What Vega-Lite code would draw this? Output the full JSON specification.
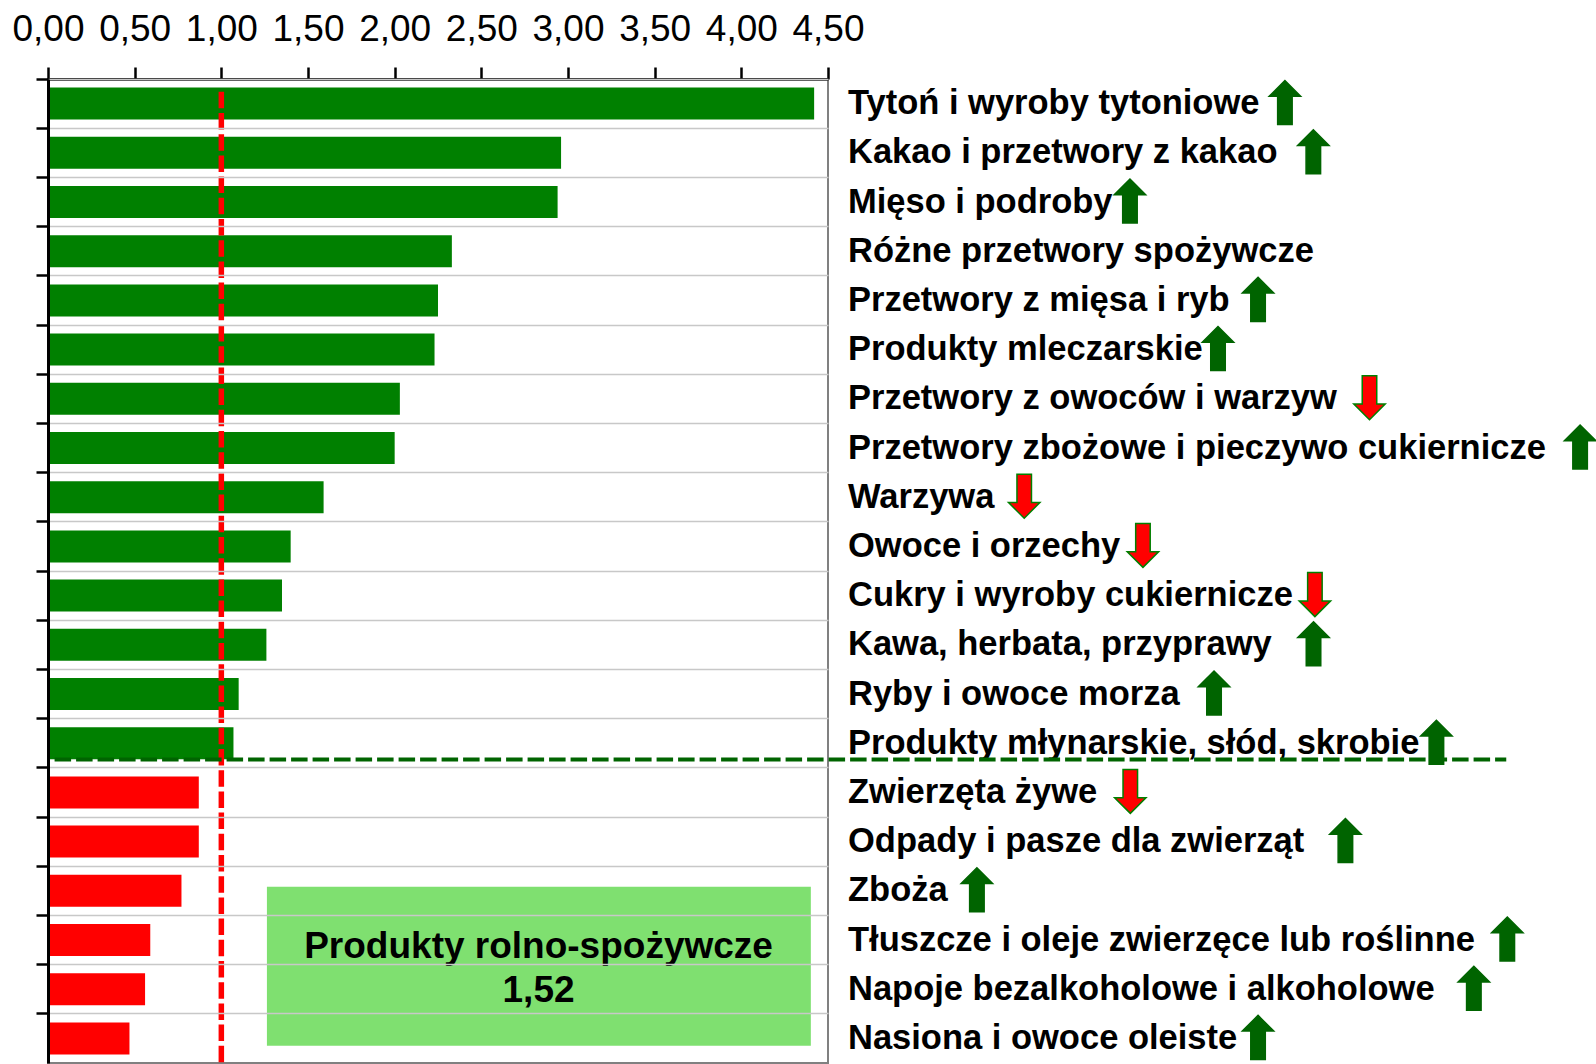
{
  "$schema": "https://vega.github.io/schema/vega-lite/v6.json",
  "autosize": {"type": "none"},
  "padding": {"left": 48, "top": 79, "right": 768, "bottom": 1},
  "width": 780,
  "height": 984,
  "background": "#ffffff",
  "config": {
    "view": {"stroke": "#808080", "strokeWidth": 2},
    "axisX": {
      "grid": false,
      "domainColor": "#000000",
      "domainWidth": 2.5,
      "tickColor": "#000000",
      "tickWidth": 2.5,
      "tickSize": 12,
      "labelFont": "Liberation Sans",
      "labelFontSize": 37,
      "labelColor": "#000000",
      "labelPadding": 27,
      "labelBaseline": "alphabetic",
      "labelFlush": false,
      "labelOverlap": false
    }
  },
  "datasets": {
    "kategorie": [
      {"kategoria": "Tytoń i wyroby tytoniowe", "wskaznik": 4.42, "grupa": "powyżej 1", "trend": "wzrost", "strzalka_x": 7.136},
      {"kategoria": "Kakao i przetwory z kakao", "wskaznik": 2.96, "grupa": "powyżej 1", "trend": "wzrost", "strzalka_x": 7.3},
      {"kategoria": "Mięso i podroby", "wskaznik": 2.94, "grupa": "powyżej 1", "trend": "wzrost", "strzalka_x": 6.242},
      {"kategoria": "Różne przetwory spożywcze", "wskaznik": 2.33, "grupa": "powyżej 1", "trend": "brak", "strzalka_x": null},
      {"kategoria": "Przetwory z mięsa i ryb", "wskaznik": 2.25, "grupa": "powyżej 1", "trend": "wzrost", "strzalka_x": 6.981},
      {"kategoria": "Produkty mleczarskie", "wskaznik": 2.23, "grupa": "powyżej 1", "trend": "wzrost", "strzalka_x": 6.75},
      {"kategoria": "Przetwory z owoców i warzyw", "wskaznik": 2.03, "grupa": "powyżej 1", "trend": "spadek", "strzalka_x": 7.624},
      {"kategoria": "Przetwory zbożowe i pieczywo cukiernicze", "wskaznik": 2.0, "grupa": "powyżej 1", "trend": "wzrost", "strzalka_x": 8.839},
      {"kategoria": "Warzywa", "wskaznik": 1.59, "grupa": "powyżej 1", "trend": "spadek", "strzalka_x": 5.632},
      {"kategoria": "Owoce i orzechy", "wskaznik": 1.4, "grupa": "powyżej 1", "trend": "spadek", "strzalka_x": 6.317},
      {"kategoria": "Cukry i wyroby cukiernicze", "wskaznik": 1.35, "grupa": "powyżej 1", "trend": "spadek", "strzalka_x": 7.309},
      {"kategoria": "Kawa, herbata, przyprawy", "wskaznik": 1.26, "grupa": "powyżej 1", "trend": "wzrost", "strzalka_x": 7.301},
      {"kategoria": "Ryby i owoce morza", "wskaznik": 1.1, "grupa": "powyżej 1", "trend": "wzrost", "strzalka_x": 6.727},
      {"kategoria": "Produkty młynarskie, słód, skrobie", "wskaznik": 1.07, "grupa": "powyżej 1", "trend": "wzrost", "strzalka_x": 8.01},
      {"kategoria": "Zwierzęta żywe", "wskaznik": 0.87, "grupa": "poniżej 1", "trend": "spadek", "strzalka_x": 6.244},
      {"kategoria": "Odpady i pasze dla zwierząt", "wskaznik": 0.87, "grupa": "poniżej 1", "trend": "wzrost", "strzalka_x": 7.485},
      {"kategoria": "Zboża", "wskaznik": 0.77, "grupa": "poniżej 1", "trend": "wzrost", "strzalka_x": 5.359},
      {"kategoria": "Tłuszcze i oleje zwierzęce lub roślinne", "wskaznik": 0.59, "grupa": "poniżej 1", "trend": "wzrost", "strzalka_x": 8.419},
      {"kategoria": "Napoje bezalkoholowe i alkoholowe", "wskaznik": 0.56, "grupa": "poniżej 1", "trend": "wzrost", "strzalka_x": 8.226},
      {"kategoria": "Nasiona i owoce oleiste", "wskaznik": 0.47, "grupa": "poniżej 1", "trend": "wzrost", "strzalka_x": 6.981}
    ],
    "podsumowanie": [
      {"linie": ["Produkty rolno-spożywcze", "1,52"]}
    ]
  },
  "layer": [
    {
      "data": {"name": "kategorie"},
      "mark": {"type": "bar", "height": {"band": 0.65}},
      "encoding": {
        "y": {
          "field": "kategoria", "type": "nominal", "sort": null,
          "scale": {"paddingInner": 0, "paddingOuter": 0},
          "axis": {
            "orient": "left", "title": null, "labels": false,
            "ticks": true, "tickSize": 12, "tickWidth": 2.5, "tickColor": "#000000",
            "domain": true, "domainColor": "#000000", "domainWidth": 3,
            "grid": true, "gridColor": "#c8c8c8", "gridWidth": 1.5,
            "bandPosition": 0, "zindex": 1
          }
        },
        "x": {
          "field": "wskaznik", "type": "quantitative",
          "scale": {"domain": [0, 4.5], "nice": false},
          "axis": {
            "orient": "top", "title": null,
            "values": [0, 0.5, 1, 1.5, 2, 2.5, 3, 3.5, 4, 4.5],
            "labelExpr": "replace(format(datum.value, '.2f'), '.', ',')"
          }
        },
        "color": {
          "field": "grupa", "type": "nominal",
          "scale": {"domain": ["powyżej 1", "poniżej 1"], "range": ["#008000", "#ff0000"]},
          "legend": null
        }
      }
    },
    {
      "data": {"name": "podsumowanie"},
      "mark": {"type": "rect", "color": "#7fe070"},
      "encoding": {
        "x": {"datum": 1.263, "type": "quantitative"},
        "x2": {"datum": 4.401},
        "y": {"datum": 16.42, "type": "quantitative", "scale": {"domain": [0, 20], "reverse": true}, "axis": null},
        "y2": {"datum": 19.65}
      }
    },
    {
      "data": {"name": "podsumowanie"},
      "mark": {"type": "text", "font": "Liberation Sans", "fontWeight": "bold", "fontSize": 37, "color": "#000000", "align": "center", "baseline": "alphabetic", "lineHeight": 43.4},
      "encoding": {
        "text": {"field": "linie"},
        "x": {"datum": 2.83, "type": "quantitative"},
        "y": {"datum": 17.87, "type": "quantitative", "scale": {"domain": [0, 20], "reverse": true}, "axis": null}
      }
    },
    {
      "data": {"name": "podsumowanie"},
      "mark": {"type": "rule", "color": "#ff0000", "strokeWidth": 5.5, "strokeDash": [16.5, 4.7]},
      "encoding": {
        "x": {"datum": 1, "type": "quantitative"},
        "y": {"datum": 0.26, "type": "quantitative", "scale": {"domain": [0, 20], "reverse": true}, "axis": null},
        "y2": {"datum": 20}
      }
    },
    {
      "data": {"name": "podsumowanie"},
      "mark": {"type": "rule", "color": "#006400", "strokeWidth": 4, "strokeDash": [16.5, 5]},
      "encoding": {
        "x": {"datum": 0.038, "type": "quantitative"},
        "x2": {"datum": 8.413},
        "y": {"datum": 13.83, "type": "quantitative", "scale": {"domain": [0, 20], "reverse": true}, "axis": null}
      }
    },
    {
      "data": {"name": "kategorie"},
      "transform": [{"filter": "datum.trend !== 'brak'"}],
      "mark": {"type": "point", "filled": true, "size": 1936, "strokeWidth": 1.5, "opacity": 1, "yOffset": -1},
      "encoding": {
        "y": {
          "field": "kategoria", "type": "nominal",
          "scale": {
            "domain": ["Tytoń i wyroby tytoniowe", "Kakao i przetwory z kakao", "Mięso i podroby", "Różne przetwory spożywcze", "Przetwory z mięsa i ryb", "Produkty mleczarskie", "Przetwory z owoców i warzyw", "Przetwory zbożowe i pieczywo cukiernicze", "Warzywa", "Owoce i orzechy", "Cukry i wyroby cukiernicze", "Kawa, herbata, przyprawy", "Ryby i owoce morza", "Produkty młynarskie, słód, skrobie", "Zwierzęta żywe", "Odpady i pasze dla zwierząt", "Zboża", "Tłuszcze i oleje zwierzęce lub roślinne", "Napoje bezalkoholowe i alkoholowe", "Nasiona i owoce oleiste"],
            "paddingInner": 0, "paddingOuter": 0
          },
          "axis": {
            "orient": "right", "title": null, "domain": false, "ticks": false, "grid": false,
            "labelPadding": 19.5, "labelAlign": "left", "labelBaseline": "middle",
            "labelFont": "Liberation Sans", "labelFontWeight": "bold", "labelFontSize": 34.5,
            "labelColor": "#000000", "labelLimit": 800
          }
        },
        "x": {"field": "strzalka_x", "type": "quantitative", "scale": {"domain": [0, 4.5], "nice": false}, "axis": {"orient": "top", "title": null}},
        "shape": {
          "field": "trend", "type": "nominal",
          "scale": {"domain": ["wzrost", "spadek"], "range": ["M0,-1L0.714,-0.286L0.33,-0.286L0.33,1L-0.33,1L-0.33,-0.286L-0.714,-0.286Z", "M0,1L0.714,0.286L0.33,0.286L0.33,-1L-0.33,-1L-0.33,0.286L-0.714,0.286Z"]},
          "legend": null
        },
        "fill": {
          "field": "trend", "type": "nominal",
          "scale": {"domain": ["wzrost", "spadek"], "range": ["#006400", "#ff0000"]},
          "legend": null
        },
        "stroke": {
          "field": "trend", "type": "nominal",
          "scale": {"domain": ["wzrost", "spadek"], "range": ["#006400", "#008000"]},
          "legend": null
        }
      }
    }
  ],
  "resolve": {"scale": {"y": "independent"}, "axis": {"y": "independent"}}
}
